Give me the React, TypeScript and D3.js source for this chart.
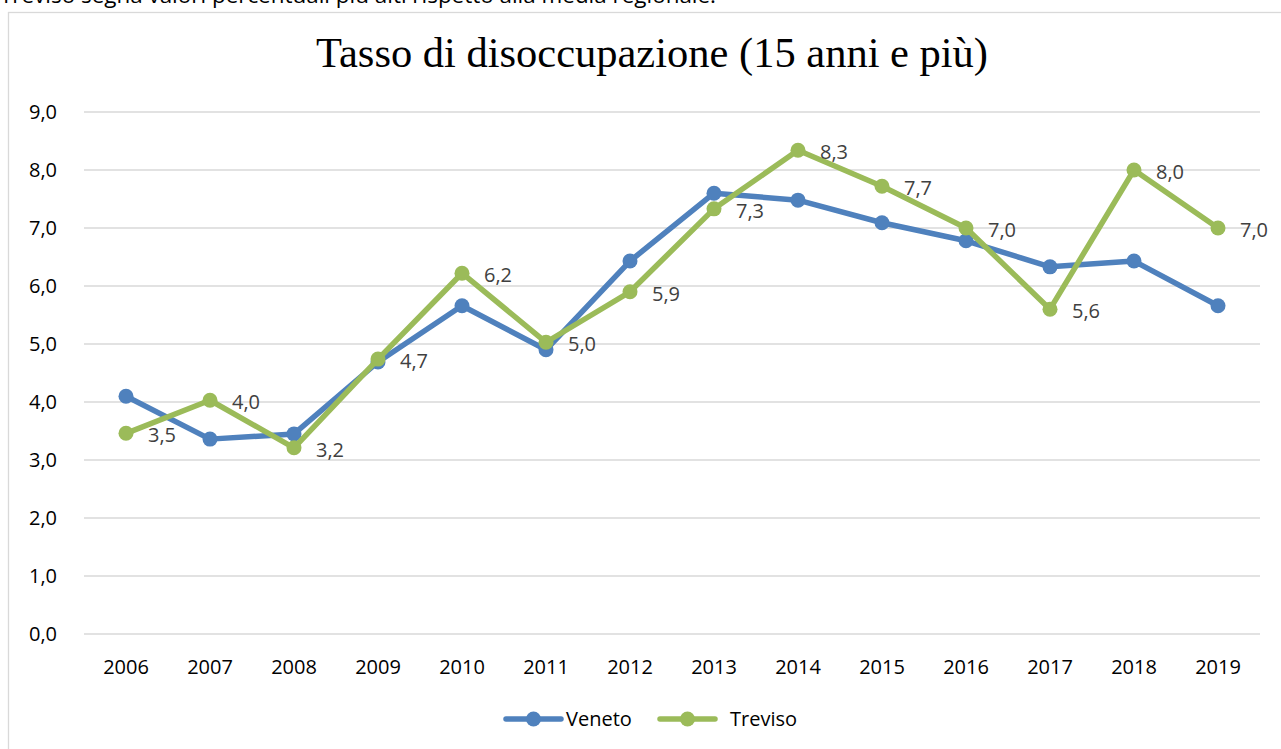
import React, { useEffect, useRef } from "react";
import * as d3 from "d3";

const years = ["2006","2007","2008","2009","2010","2011","2012","2013","2014","2015","2016","2017","2018","2019"];
const veneto = [4.1, 3.36, 3.45, 4.69, 5.66, 4.9, 6.43, 7.6, 7.48, 7.09, 6.78, 6.33, 6.43, 5.66];
const treviso = [3.46, 4.03, 3.21, 4.74, 6.22, 5.03, 5.9, 7.33, 8.34, 7.72, 7.0, 5.6, 8.0, 7.0];
const yTicks = [0, 1, 2, 3, 4, 5, 6, 7, 8, 9];
const seriesNames = ["Veneto", "Treviso"];
const seriesColors = ["#4F81BD", "#9BBB59"];

const W = 1281, H = 749;
const FONT = "'Open Sans', sans-serif";
const FS = 20;

export default function App() {
  const ref = useRef<SVGSVGElement>(null);
  useEffect(() => {
    const svg = d3.select(ref.current);
    svg.selectAll("*").remove();

    // cut off caption above chart
    svg.append("text").attr("x", 0).attr("y", 3).attr("font-family", FONT).attr("font-size", 22)
      .attr("textLength", 716).attr("lengthAdjust", "spacingAndGlyphs")
      .attr("fill", "#000").text("Treviso segna valori percentuali più alti rispetto alla media regionale.");

    svg.append("rect").attr("x", 8.5).attr("y", 12.5).attr("width", 1400).attr("height", 900)
      .attr("fill", "#fff").attr("stroke", "#d9d9d9").attr("stroke-width", 1.3);

    svg.append("text").attr("x", 652).attr("y", 67).attr("text-anchor", "middle")
      .attr("font-family", "'Liberation Serif', serif").attr("font-size", 43).attr("fill", "#000")
      .attr("textLength", 672).attr("lengthAdjust", "spacingAndGlyphs")
      .text("Tasso di disoccupazione (15 anni e più)");

    const x = d3.scaleBand().domain(years).range([84, 1260]);
    const y = d3.scaleLinear().domain([0, 9]).range([634, 112]);
    const cx = (d: string) => (x(d) as number) + x.bandwidth() / 2;

    const g = svg.append("g");
    g.selectAll("line.grid").data(yTicks).enter().append("line")
      .attr("x1", 84).attr("x2", 1260).attr("y1", d => y(d)).attr("y2", d => y(d))
      .attr("stroke", "#d9d9d9").attr("stroke-width", 1.3);
    g.selectAll("text.yt").data(yTicks).enter().append("text")
      .attr("x", 57).attr("y", d => y(d) + 7).attr("text-anchor", "end")
      .attr("font-family", FONT).attr("font-size", FS).attr("fill", "#000")
      .text(d => d3.format(".1f")(d).replace(".", ","));
    g.selectAll("text.xt").data(years).enter().append("text")
      .attr("x", d => cx(d)).attr("y", 674).attr("text-anchor", "middle")
      .attr("font-family", FONT).attr("font-size", FS).attr("fill", "#000").text(d => d);

    const data = [veneto, treviso];
    data.forEach((vals, i) => {
      const line = d3.line<number>().x((_, j) => cx(years[j])).y(v => y(v));
      g.append("path").attr("d", line(vals) as string).attr("fill", "none")
        .attr("stroke", seriesColors[i]).attr("stroke-width", 5.5).attr("stroke-linejoin", "round").attr("stroke-linecap", "round");
      g.selectAll(null).data(vals).enter().append("circle")
        .attr("cx", (_, j) => cx(years[j])).attr("cy", v => y(v)).attr("r", 7.5).attr("fill", seriesColors[i]);
    });
    // data labels for Treviso
    g.selectAll("text.lab").data(treviso).enter().append("text")
      .attr("x", (_, j) => cx(years[j]) + 22).attr("y", v => y(v) + 9)
      .attr("font-family", FONT).attr("font-size", FS).attr("fill", "#404040")
      .text(v => d3.format(".1f")(v).replace(".", ","));

    // legend
    const lx = [506, 660];
    const tx = [566, 730];
    seriesNames.forEach((n, i) => {
      svg.append("line").attr("x1", lx[i]).attr("x2", lx[i] + 55).attr("y1", 719).attr("y2", 719)
        .attr("stroke", seriesColors[i]).attr("stroke-width", 5.5).attr("stroke-linecap", "round");
      svg.append("circle").attr("cx", lx[i] + 27.5).attr("cy", 719).attr("r", 7.5).attr("fill", seriesColors[i]);
      svg.append("text").attr("x", tx[i]).attr("y", 726).attr("font-family", FONT).attr("font-size", FS)
        .attr("fill", "#000").text(n);
    });
  }, []);
  return (
    <div style={{ position: "fixed", left: 0, top: 0, width: W, height: H, background: "#fff" }}>
      <svg ref={ref} width={W} height={H} />
    </div>
  );
}
